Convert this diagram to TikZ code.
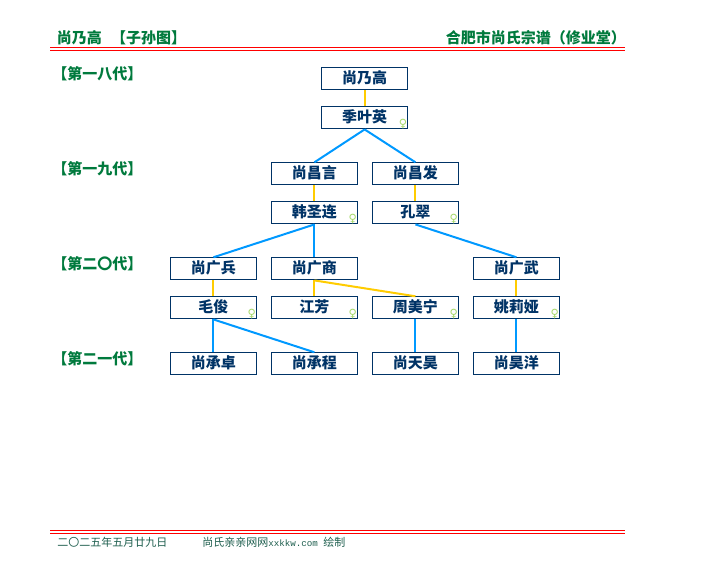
\documentclass[tikz,border=0pt]{standalone}
\usepackage{fontspec}
\newfontfamily\cjk{Noto Sans CJK SC}
\newfontfamily\femfont{DejaVu Sans}
\newfontfamily\latinmono{Liberation Mono}
\usetikzlibrary{calc}
\definecolor{boxblue}{HTML}{003366}
\definecolor{linkblue}{HTML}{0099FF}
\definecolor{linkyellow}{HTML}{FFCC00}
\definecolor{headgreen}{HTML}{007A3D}
\definecolor{rulered}{HTML}{FF0000}
\definecolor{femgreen}{HTML}{A6D96A}
\definecolor{foot}{HTML}{1F5F4F}
\tikzset{
  person/.style={draw=boxblue,line width=0.85pt,fill=white,minimum width=64.3pt,minimum height=16.5pt,inner sep=0pt,
    text=boxblue,font=\cjk\bfseries\fontsize{11.25pt}{11.25pt}\selectfont,text height=9.1pt,text depth=2.2pt,anchor=north west},
  heading/.style={text=headgreen,font=\cjk\bfseries\fontsize{11.25pt}{11.25pt}\selectfont,inner sep=0pt,anchor=west},
  footer/.style={text=foot,font=\cjk\fontsize{8.25pt}{8.25pt}\selectfont,inner sep=0pt,anchor=west},
  femsym/.style={text=femgreen,font=\femfont\fontsize{8.5pt}{8.5pt}\selectfont,inner sep=0pt},
  spouse/.style={draw=linkyellow,line width=1.5pt},
  child/.style={draw=linkblue,line width=1.5pt},
  redrule/.style={draw=rulered,line width=0.85pt}
}
\begin{document}
\begin{tikzpicture}[x=0.75pt,y=-0.75pt]
\fill[white] (0,0) rectangle (724,580);
\useasboundingbox (0,0) rectangle (724,580);
% header and footer rules
\coordinate (hl1) at (50,47.5); \coordinate (hr1) at (625,47.5);
\coordinate (hl2) at (50,50.5); \coordinate (hr2) at (625,50.5);
\coordinate (fl1) at (50,530.5); \coordinate (fr1) at (625,530.5);
\coordinate (fl2) at (50,533.5); \coordinate (fr2) at (625,533.5);
\draw[redrule] (hl1) -- (hr1);
\draw[redrule] (hl2) -- (hr2);
\draw[redrule] (fl1) -- (fr1);
\draw[redrule] (fl2) -- (fr2);
% texts
\node[heading] (title) at (56.5,38) {尚乃高\hspace{7pt}【子孙图】};
\node[heading] (clan) at (445.5,38) {合肥市尚氏宗谱（修业堂）};
\node[heading] (g18) at (52,74) {【第一八代】};
\node[heading] (g19) at (52,169) {【第一九代】};
\node[heading] (g20) at (52,264) {【第二〇代】};
\node[heading] (g21) at (52,359) {【第二一代】};
\node[footer] (date) at (57,542.5) {二〇二五年五月廿九日};
\node[footer] (site) at (202,542.5) {尚氏亲亲网网{\latinmono\fontsize{6.9pt}{6.9pt}\selectfont xxkkw.com}\hspace{4pt}绘制};
% persons
\node[person] (a1) at (321.2,67.3) {尚乃高};
\node[person] (a2) at (321.2,106.3) {季叶英};
\node[person] (b1) at (271,162.3) {尚昌言};
\node[person] (b2) at (372,162.3) {尚昌发};
\node[person] (b3) at (271,201.3) {韩圣连};
\node[person] (b4) at (372,201.3) {孔翠};
\node[person] (c1) at (170,257.3) {尚广兵};
\node[person] (c2) at (271,257.3) {尚广商};
\node[person] (c3) at (473,257.3) {尚广武};
\node[person] (d1) at (170,296.3) {毛俊};
\node[person] (d2) at (271,296.3) {江芳};
\node[person] (d3) at (372,296.3) {周美宁};
\node[person] (d4) at (473,296.3) {姚莉娅};
\node[person] (e1) at (170,352.3) {尚承卓};
\node[person] (e2) at (271,352.3) {尚承程};
\node[person] (e3) at (372,352.3) {尚天昊};
\node[person] (e4) at (473,352.3) {尚昊洋};
% connectors
\draw[spouse] (a1.south) -- (a2.north);
\draw[child] (a2.south) -- (b1.north);
\draw[child] (a2.south) -- (b2.north);
\draw[spouse] (b1.south) -- (b3.north);
\draw[spouse] (b2.south) -- (b4.north);
\draw[child] (b3.south) -- (c1.north);
\draw[child] (b3.south) -- (c2.north);
\draw[child] (b4.south) -- (c3.north);
\draw[spouse] (c1.south) -- (d1.north);
\draw[spouse] (c2.south) -- (d2.north);
\draw[spouse] (c2.south) -- (d3.north);
\draw[spouse] (c3.south) -- (d4.north);
\draw[child] (d1.south) -- (e1.north);
\draw[child] (d1.south) -- (e2.north);
\draw[child] (d3.south) -- (e3.north);
\draw[child] (d4.south) -- (e4.north);
% female marks
\foreach \n in {a2,b3,b4,d1,d2,d3,d4}{
  \node[femsym] (fem\n) at ($(\n.south east)+(-5,-5.5)$) {♀};
}
\end{tikzpicture}
\end{document}
